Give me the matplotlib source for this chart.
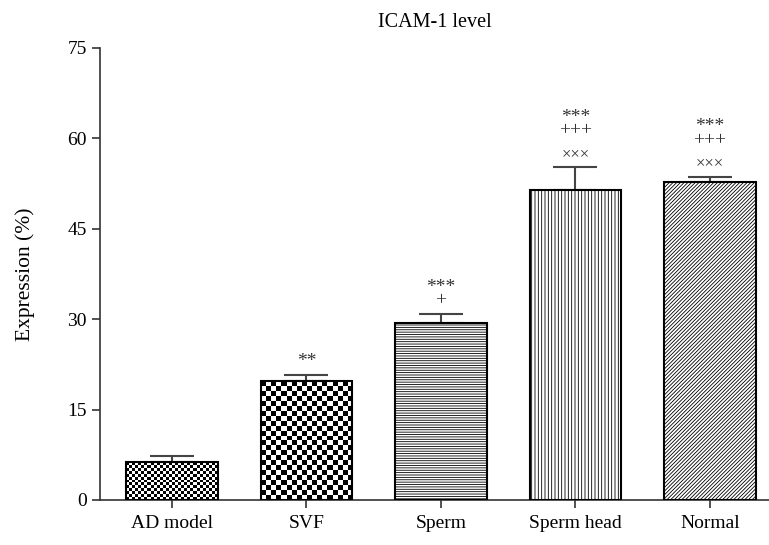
import numpy as np
import matplotlib
matplotlib.use("Agg")
import matplotlib.pyplot as plt

plt.rcParams['font.family'] = ['Liberation Serif', 'DejaVu Serif']
plt.rcParams['hatch.linewidth'] = 0.6
plt.rcParams['hatch.color'] = '#222222'

groups = ['AD model', 'SVF', 'Sperm', 'Sperm head', 'Normal']
means = [6.3, 19.7, 29.4, 51.4, 52.8]
errs = [1.0, 1.1, 1.5, 3.8, 0.8]
# significance marks: stars/plus block and the cross mark under it
upper_marks = ['', '**', '***\n+', '***\n+++', '***\n+++']
cross_marks = ['', '', '', '×××', '×××']
yticks = [0, 15, 30, 45, 60, 75]

fig = plt.figure(figsize=(7.69, 5.45), dpi=100)
ax = fig.add_axes([0.130, 0.0826, 0.87, 0.8294])
ax.set_xlim(-0.535, 4.44)
ax.set_ylim(0, 75)

x = np.arange(len(groups))
fills = ['check_fine', 'check_coarse', '-------', '|||||', '/////////']
bars = []
for i, f in enumerate(fills):
    if f.startswith('check'):
        b = ax.bar(x[i], means[i], width=0.68, facecolor='none', edgecolor='black',
                   linewidth=1.5, zorder=3)[0]
    else:
        b = ax.bar(x[i], means[i], width=0.68, facecolor='white', edgecolor='black',
                   linewidth=1.5, hatch=f, zorder=3)[0]
    bars.append(b)

fig.canvas.draw()
for i, f in enumerate(fills):
    if not f.startswith('check'):
        continue
    b = bars[i]
    cell = 3.0 if f == 'check_fine' else 5.0
    p0 = ax.transData.transform((b.get_x(), 0))
    p1 = ax.transData.transform((b.get_x() + b.get_width(), b.get_height()))
    nx = max(1, int(round((p1[0] - p0[0]) / cell)))
    ny = max(1, int(round((p1[1] - p0[1]) / cell)))
    board = (np.add.outer(np.arange(ny), np.arange(nx)) % 2).astype(float)
    im = ax.imshow(board, cmap='gray', interpolation='nearest', aspect='auto',
                   extent=(b.get_x(), b.get_x() + b.get_width(), 0, b.get_height()),
                   zorder=2)
    im.set_clip_path(b)
ax.set_xlim(-0.535, 4.44)
ax.set_ylim(0, 75)

ax.errorbar(x, means, yerr=[[0] * len(errs), errs], fmt='none', ecolor='#444444',
            elinewidth=1.5, capsize=16, capthick=1.5, zorder=2)

for i in range(len(groups)):
    top = means[i] + errs[i]
    off = 3
    if cross_marks[i]:
        ax.annotate(cross_marks[i], (x[i], top), xytext=(0, 4),
                    textcoords='offset points', ha='center', va='bottom',
                    fontsize=12, color='#333333')
        off = 20
    if upper_marks[i]:
        ax.annotate(upper_marks[i], (x[i], top), xytext=(0, off),
                    textcoords='offset points', ha='center', va='bottom',
                    fontsize=14, color='#333333', linespacing=0.75)

ax.set_xticks(x)
ax.set_xticklabels(groups, fontsize=14)
ax.set_yticks(yticks)
ax.tick_params(axis='y', labelsize=14, length=6, width=1.2, color='#333333')
ax.tick_params(axis='x', length=6, width=1.2, color='#333333', pad=5)
ax.set_ylabel('Expression (%)', fontsize=15.5, labelpad=23)
ax.set_title('ICAM-1 level', fontsize=14.5, pad=15)

for side in ['top', 'right']:
    ax.spines[side].set_visible(False)
for side in ['left', 'bottom']:
    ax.spines[side].set_linewidth(1.2)
    ax.spines[side].set_color('#333333')

fig.savefig('out.png', dpi=100)
